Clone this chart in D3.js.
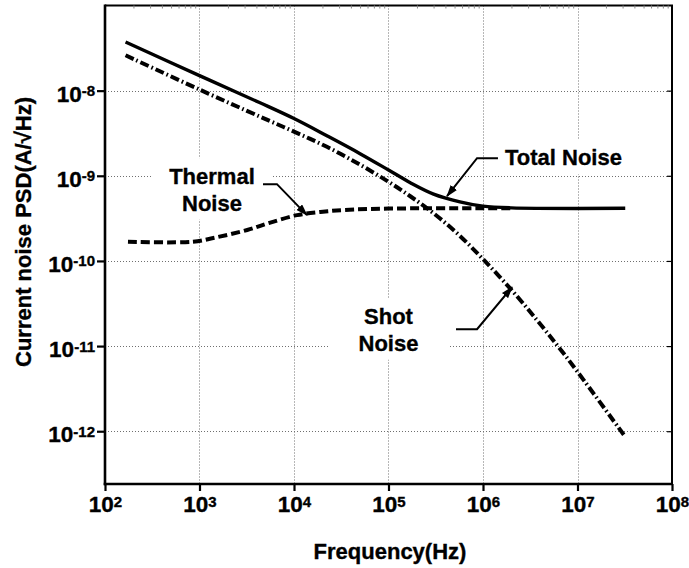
<!DOCTYPE html>
<html>
<head>
<meta charset="utf-8">
<script src="https://cdn.jsdelivr.net/npm/d3@7"></script>
<style>
  html, body { margin: 0; padding: 0; background: #fff; }
  svg { display: block; font-family: "Liberation Sans", Arial, sans-serif; font-weight: bold; }
  svg text { stroke: #000; stroke-width: 0.35px; }
</style>
</head>
<body>
<svg id="chart" width="689" height="568"></svg>
<script>
// Axis ticks (decades) and their exponent labels
const xTickValues = [1e2, 1e3, 1e4, 1e5, 1e6, 1e7, 1e8];
const xTickExponents = ["2", "3", "4", "5", "6", "7", "8"];
const yTickValues = [1e-8, 1e-9, 1e-10, 1e-11, 1e-12];
const yTickExponents = ["-8", "-9", "-10", "-11", "-12"];

// Total noise PSD (A/√Hz) vs frequency (Hz)
const totalFreq  = [165, 1e3, 4.37e3, 1e4, 2.23e4, 5e4, 1e5, 1.7e5, 3e5, 5.7e5, 1e6, 2e6, 3.2e7];
const totalNoise = [3.72e-8, 1.50e-8, 7.2e-9, 4.7e-9, 2.95e-9, 1.82e-9, 1.17e-9, 8.3e-10, 6.1e-10, 4.95e-10, 4.4e-10, 4.2e-10, 4.15e-10];

// Shot noise PSD
const shotFreq  = [165, 1e3, 4.37e3, 1e4, 2.23e4, 5e4, 1e5, 1.7e5, 3e5, 5.5e5, 1e6, 2e6, 3.7e6, 6.2e6, 1e7, 3.2e7];
const shotNoise = [2.6e-8, 1.03e-8, 4.95e-9, 3.3e-9, 2.19e-9, 1.35e-9, 8.5e-10, 5.75e-10, 3.63e-10, 2.04e-10, 1.05e-10, 4.57e-11, 2.04e-11, 1.0e-11, 5.0e-12, 8.6e-13];

// Thermal noise PSD
const thermalFreq  = [175, 850, 1.4e3, 3.2e3, 5.5e3, 1.08e4, 1.9e4, 3.3e4, 1e5, 2e6];
const thermalNoise = [1.68e-10, 1.68e-10, 1.86e-10, 2.31e-10, 2.8e-10, 3.45e-10, 3.76e-10, 3.96e-10, 4.12e-10, 4.15e-10];

const svg = d3.select("#chart");
const plotL = 105, plotR = 672, plotT = 5.5, plotB = 484;

const x = d3.scaleLog().domain([1e2, 1e8]).range([plotL, plotR]);
const y = d3.scaleLog().domain([2.4e-13, 1e-7]).range([plotB, plotT]);

// Dotted grid at every decade
const grid = svg.append("g").attr("stroke", "#6f6f6f").attr("stroke-width", 1)
  .attr("stroke-dasharray", "1,2");
grid.selectAll("line.v").data(xTickValues.slice(1, -1)).join("line")
  .attr("class", "v")
  .attr("x1", d => Math.round(x(d)) + 0.5).attr("x2", d => Math.round(x(d)) + 0.5)
  .attr("y1", plotT).attr("y2", plotB);
grid.selectAll("line.h").data(yTickValues).join("line")
  .attr("class", "h")
  .attr("y1", d => Math.round(y(d)) + 0.5).attr("y2", d => Math.round(y(d)) + 0.5)
  .attr("x1", plotL).attr("x2", plotR);

// Annotation callouts: label text, anchor in data units, leader path in data units
const notes = [
  { lines: ["Thermal", "Noise"], anchor: "middle", at: [1.355e3, 7.98e-10],
    path: [[4.7e3, 7.98e-10], [6.6e3, 7.98e-10], [1.37e4, 3.45e-10]], padX: 17 },
  { lines: ["Total Noise"], anchor: "start", at: [1.71e6, 1.33e-9],
    path: [[1.44e6, 1.61e-9], [8.65e5, 1.61e-9], [4.16e5, 5.77e-10]], padX: 14 },
  { lines: ["Shot", "Noise"], anchor: "middle", at: [1e5, 1.81e-11],
    path: [[5.18e5, 1.58e-11], [8.65e5, 1.58e-11], [2.03e6, 4.92e-11]], padX: 30 }
];

const boxLayer = svg.append("g");
const curveLayer = svg.append("g");
const axisLayer = svg.append("g");
const noteLayer = svg.append("g");

// Curves
const line = d3.line().x(d => x(d[0])).y(d => y(d[1])).curve(d3.curveCatmullRom.alpha(0.5));
curveLayer.append("path")
  .attr("d", line(d3.zip(thermalFreq, thermalNoise)))
  .attr("fill", "none").attr("stroke", "#000").attr("stroke-width", 4)
  .attr("stroke-dasharray", "9,4");
curveLayer.append("path")
  .attr("d", line(d3.zip(shotFreq, shotNoise)))
  .attr("fill", "none").attr("stroke", "#000").attr("stroke-width", 4)
  .attr("stroke-dasharray", "9,3,1.6,3");
curveLayer.append("path")
  .attr("d", line(d3.zip(totalFreq, totalNoise)))
  .attr("fill", "none").attr("stroke", "#000").attr("stroke-width", 3.4);

// Frame
axisLayer.append("line").attr("x1", plotL).attr("x2", plotL).attr("y1", plotT - 1).attr("y2", plotB + 1.2)
  .attr("stroke", "#000").attr("stroke-width", 2.6);
axisLayer.append("line").attr("x1", plotL - 1.3).attr("x2", plotR + 1).attr("y1", plotB).attr("y2", plotB)
  .attr("stroke", "#000").attr("stroke-width", 2.4);
axisLayer.append("line").attr("x1", plotL).attr("x2", plotR + 1).attr("y1", plotT).attr("y2", plotT)
  .attr("stroke", "#000").attr("stroke-width", 2);
axisLayer.append("line").attr("x1", plotR).attr("x2", plotR).attr("y1", plotT).attr("y2", plotB)
  .attr("stroke", "#000").attr("stroke-width", 2);

// Left axis: outward decade ticks with 10^n labels
const yAxis = axisLayer.append("g").attr("transform", `translate(${plotL},0)`)
  .call(d3.axisLeft(y).tickValues(yTickValues).tickSize(8).tickFormat(""));
yAxis.select(".domain").remove();
yAxis.selectAll(".tick line").attr("stroke-width", 2.2);
yAxis.selectAll(".tick").each(function (d, i) {
  const t = d3.select(this).append("text")
    .attr("x", -10).attr("y", 10.5).attr("text-anchor", "end")
    .attr("fill", "#000").attr("font-size", 22.5);
  t.append("tspan").text("10");
  t.append("tspan").attr("font-size", 15).attr("dy", -5.5).text(yTickExponents[i]);
});

// Right axis: short inward ticks
const yAxisR = axisLayer.append("g").attr("transform", `translate(${plotR},0)`)
  .call(d3.axisRight(y).tickValues(yTickValues).tickSize(-5).tickFormat(""));
yAxisR.select(".domain").remove();
yAxisR.selectAll(".tick line").attr("stroke-width", 1.2);

// Bottom axis: outward decade ticks with 10^n labels
const xAxis = axisLayer.append("g").attr("transform", `translate(0,${plotB})`)
  .call(d3.axisBottom(x).tickValues(xTickValues).tickSize(7).tickFormat(""));
xAxis.select(".domain").remove();
xAxis.selectAll(".tick line").attr("stroke-width", 2.2);
xAxis.selectAll(".tick").each(function (d, i) {
  const t = d3.select(this).append("text")
    .attr("x", 0).attr("y", 28).attr("text-anchor", "middle")
    .attr("fill", "#000").attr("font-size", 22.5);
  t.append("tspan").text("10");
  t.append("tspan").attr("font-size", 15).attr("dy", -5.5).text(xTickExponents[i]);
});

// Top axis: faint inward minor ticks
const minorTicks = [];
for (let e = 2; e < 8; e++) for (let k = 2; k <= 9; k++) minorTicks.push(k * Math.pow(10, e));
const xAxisTop = axisLayer.append("g").attr("transform", `translate(0,${plotT})`)
  .call(d3.axisTop(x).tickValues(minorTicks).tickSize(-3).tickFormat(""));
xAxisTop.select(".domain").remove();
xAxisTop.selectAll(".tick line").attr("stroke", "#888").attr("stroke-width", 1);

// Axis titles
svg.append("text")
  .attr("transform", "translate(31,232) rotate(-90)")
  .attr("text-anchor", "middle").attr("font-size", 22).attr("fill", "#000")
  .text("Current noise PSD(A/\u221AHz)");
svg.append("text")
  .attr("x", 390).attr("y", 559)
  .attr("text-anchor", "middle").attr("font-size", 22).attr("fill", "#000")
  .text("Frequency(Hz)");

// Arrowhead
svg.append("defs").append("marker")
  .attr("id", "arrow").attr("markerUnits", "userSpaceOnUse")
  .attr("viewBox", "0 0 12 8").attr("markerWidth", 12).attr("markerHeight", 8)
  .attr("refX", 11).attr("refY", 4).attr("orient", "auto")
  .append("path").attr("d", "M0,0L12,4L0,8Z").attr("fill", "#000");

// Callouts with white backing boxes that interrupt the grid
const straight = d3.line().x(d => x(d[0])).y(d => y(d[1]));
notes.forEach(n => {
  const t = noteLayer.append("text")
    .attr("text-anchor", n.anchor).attr("font-size", 22).attr("fill", "#000");
  n.lines.forEach((s, i) => {
    t.append("tspan").attr("x", x(n.at[0])).attr("y", y(n.at[1]) + i * 26.5).text(s);
  });
  const bb = t.node().getBBox();
  boxLayer.append("rect")
    .attr("x", bb.x - n.padX).attr("y", bb.y - 6)
    .attr("width", bb.width + 2 * n.padX).attr("height", bb.height + 10)
    .attr("fill", "#fff");
  noteLayer.append("path")
    .attr("d", straight(n.path))
    .attr("fill", "none").attr("stroke", "#000").attr("stroke-width", 2)
    .attr("marker-end", "url(#arrow)");
});
</script>
</body>
</html>
